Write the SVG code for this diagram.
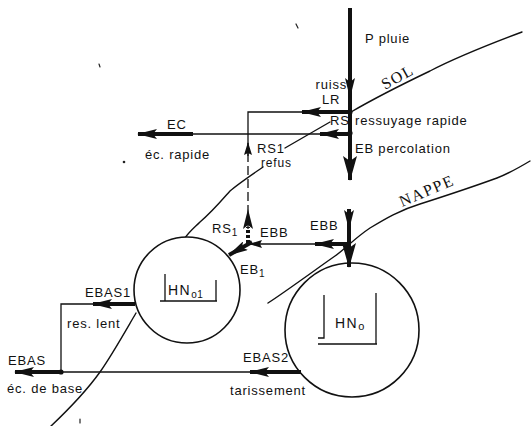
<svg xmlns="http://www.w3.org/2000/svg" width="531" height="426" viewBox="0 0 531 426">
<style>
.t{font-family:"Liberation Sans",Arial,sans-serif;font-size:13px;letter-spacing:0.8px;fill:#111}
.s{font-family:"Liberation Serif","Times New Roman",serif;font-size:16px;letter-spacing:1.5px;fill:#111}
.thin{stroke:#111;stroke-width:1.3;fill:none}
.thick{stroke:#111;stroke-width:4;fill:none}
.bound{stroke:#111;stroke-width:1.4;fill:none;stroke-linecap:round;stroke-linejoin:round}
.node{stroke:#111;stroke-width:1.6;fill:#fff}
.br{stroke:#111;stroke-width:1.3;fill:none}
.speck{stroke:#222;stroke-width:1.2;fill:none;stroke-linecap:round}
</style>
<defs>
<marker id="a" markerUnits="userSpaceOnUse" markerWidth="20" markerHeight="10" refX="19" refY="5" orient="auto"><path d="M0,0 L20,5 L0,10 L4,5 z" fill="#111"/></marker>
<marker id="big" markerUnits="userSpaceOnUse" markerWidth="25" markerHeight="14" refX="24" refY="7" orient="auto"><path d="M0,0 L25,7 L0,14 L5,7 z" fill="#111"/></marker>
<marker id="sm" markerUnits="userSpaceOnUse" markerWidth="13" markerHeight="8" refX="12" refY="4" orient="auto"><path d="M0,0 L13,4 L0,8 L2,4 z" fill="#111"/></marker>
</defs>
<rect width="531" height="426" fill="#fff"/>

<g id="boundaries">
<path class="bound" d="M522,32 C490,44 455,58 430,71 C405,83 375,98 351,112"/>
<path class="bound" d="M330,122 L285,148"/>
<path class="bound" d="M263,167 C250,176 238,184 230,191 C222,200 212,212 200,222 C194,228 189,232 185,238"/>
<path class="bound" d="M136,313 C126,330 112,355 100,372 C85,393 68,410 50,427"/>
<path class="bound" d="M268,303 C285,292 315,270 335,256 C345,249 355,238 370,228 C385,219 400,210 420,204 C445,196 475,186 497,178 C510,173 520,167 530,161"/>
<text class="s" x="385" y="90" transform="rotate(-29 385 90)">SOL</text>
<text class="s" x="402" y="207" transform="rotate(-23 402 207)">NAPPE</text>
</g>

<g id="hno1">
<circle class="node" cx="187" cy="290" r="53"/>
<path class="br" d="M160,301 L165,301 M165,274 L165,301 L217,301 M216,280 L216,301"/>
<text class="t" x="168" y="295" style="font-size:14px;letter-spacing:1.5px">HN<tspan font-size="10" dy="3" letter-spacing="0.5">o1</tspan></text>
</g>

<g id="hno">
<circle class="node" cx="352" cy="330" r="67"/>
<path class="br" d="M324,295 L324,338 L318,338 M318,344 L377,344 M376,293 L376,344"/>
<text class="t" x="335" y="328" style="font-size:14px;letter-spacing:1.5px">HN<tspan font-size="11" dy="2">o</tspan></text>
</g>

<g id="connectors">
<path class="thick" d="M350,8 L350,97 L350,180" marker-mid="url(#a)" marker-end="url(#big)"/>
<circle cx="350" cy="112" r="2.6" fill="#111"/>
<circle cx="350" cy="133" r="2.6" fill="#111"/>
<line class="thick" x1="350" y1="112" x2="302" y2="112" marker-end="url(#a)"/>
<path class="thin" d="M303,112 L248,112 L248,150"/>
<line class="thin" x1="248" y1="156" x2="248" y2="143" marker-end="url(#sm)"/>
<line class="thin" x1="248" y1="153" x2="248" y2="210" stroke-dasharray="9,4"/>
<line class="thick" x1="350" y1="134" x2="320" y2="134" marker-end="url(#a)"/>
<line class="thin" x1="321" y1="134" x2="192" y2="134"/>
<line class="thick" x1="193" y1="134" x2="138" y2="134" marker-end="url(#a)"/>
<line class="thick" x1="248" y1="243" x2="248" y2="227" stroke-dasharray="3,2"/>
<line class="thin" x1="248" y1="229" x2="248" y2="210" marker-end="url(#a)"/>
<path class="thick" d="M349,209 L349,229 L349,267" marker-mid="url(#a)" marker-end="url(#big)"/>
<line class="thick" x1="349" y1="244" x2="315" y2="244" marker-end="url(#a)"/>
<line class="thin" x1="316" y1="244" x2="250" y2="244" marker-end="url(#sm)"/>
<line class="thick" x1="252" y1="242" x2="229" y2="255" marker-end="url(#a)"/>
<line class="thick" x1="135" y1="304" x2="93" y2="304" marker-end="url(#a)"/>
<path class="thin" d="M94,304 L61,304 L61,372"/>
<circle cx="61" cy="372" r="2.6" fill="#111"/>
<line class="thick" x1="61" y1="372" x2="15" y2="372" marker-end="url(#a)"/>
<line class="thin" x1="61" y1="372" x2="251" y2="372"/>
<line class="thick" x1="301" y1="372" x2="250" y2="372" marker-end="url(#a)"/>
</g>

<g id="specks">
<circle cx="124" cy="162" r="1.3" fill="#222"/>
<path class="speck" d="M296,24 L298,28"/>
<path class="speck" d="M99,64 L100,67"/>
<path class="speck" d="M80,419 L80,423"/>
</g>

<g id="labels">
<text class="t" x="365" y="43">P pluie</text>
<text class="t" x="347" y="89" text-anchor="end">ruiss</text>
<text class="t" x="322" y="104">LR</text>
<text class="t" x="330" y="125">RS</text>
<text class="t" x="355" y="125">ressuyage rapide</text>
<text class="t" x="355" y="153">EB percolation</text>
<text class="t" x="167" y="129">EC</text>
<text class="t" x="145" y="159">éc. rapide</text>
<text class="t" x="257" y="153">RS1</text>
<text class="t" x="261" y="167" style="font-size:12px">refus</text>
<text class="t" x="212" y="233">RS<tspan font-size="10" dy="3">1</tspan></text>
<text class="t" x="260" y="237">EBB</text>
<text class="t" x="310" y="230">EBB</text>
<text class="t" x="240" y="274">EB<tspan font-size="10" dy="3">1</tspan></text>
<text class="t" x="85" y="297">EBAS1</text>
<text class="t" x="67" y="328">res. lent</text>
<text class="t" x="8" y="365">EBAS</text>
<text class="t" x="7" y="393">éc. de base</text>
<text class="t" x="243" y="362">EBAS2</text>
<text class="t" x="230" y="395">tarissement</text>
</g>
</svg>
